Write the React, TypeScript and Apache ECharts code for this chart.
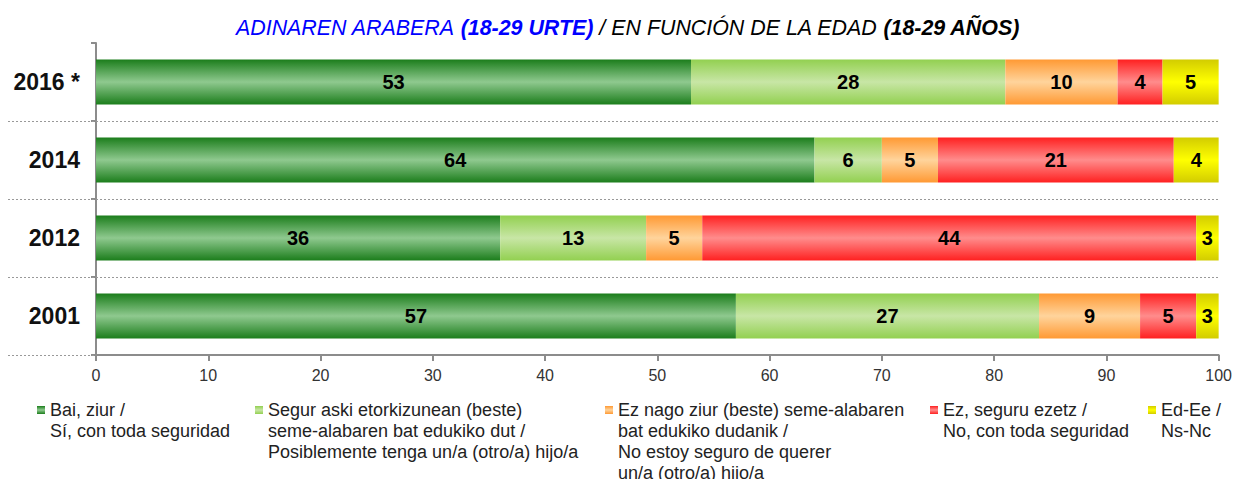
import React, { useEffect, useRef } from "react";
import * as echarts from "echarts";

const categories = ["2016 *", "2014", "2012", "2001"];
const seriesNames = [
  "Bai, ziur /\nSí, con toda seguridad",
  "Segur aski etorkizunean (beste)\nseme-alabaren bat edukiko dut /\nPosiblemente tenga un/a (otro/a) hijo/a",
  "Ez nago ziur (beste) seme-alabaren\nbat edukiko dudanik /\nNo estoy seguro de querer\nun/a (otro/a) hijo/a",
  "Ez, seguru ezetz /\nNo, con toda seguridad",
  "Ed-Ee /\nNs-Nc",
];
const baiZiur = [53, 64, 36, 57];
const segurAski = [28, 6, 13, 27];
const ezNagoZiur = [10, 5, 5, 9];
const ezSeguru = [4, 21, 44, 5];
const edEe = [5, 4, 3, 3];
const seriesValues = [baiZiur, segurAski, ezNagoZiur, ezSeguru, edEe];

const edgeColors = ["#1b7d1b", "#92d050", "#ff9933", "#ff2020", "#d2cc00"];
const midColors = ["#8fc98f", "#c8e6a6", "#ffd49c", "#ff8c8c", "#ffff00"];
const legendLeft = [37, 255, 605, 930, 1148];

const FONT = "'Liberation Sans', Arial, sans-serif";

function grad(edge: string, mid: string) {
  return new echarts.graphic.LinearGradient(0, 0, 0, 1, [
    { offset: 0, color: edge },
    { offset: 0.5, color: mid },
    { offset: 1, color: edge },
  ]);
}

export default function App() {
  const ref = useRef<HTMLDivElement>(null);
  useEffect(() => {
    if (!ref.current) return;
    const chart = echarts.init(ref.current, null, { renderer: "svg" });
    const lineCount = seriesNames.map((n) => n.split("\n").length);
    const TS = 21.4;
    chart.setOption({
      animation: false,
      title: {
        text:
          "{b|ADINAREN ARABERA }{bb|(18-29 URTE)}{k| / EN FUNCIÓN DE LA EDAD }{kb|(18-29 AÑOS)}",
        left: 236,
        top: 17,
        padding: 0,
        textStyle: {
          fontWeight: "normal",
          rich: {
            b: { color: "#0000ff", fontSize: TS, fontStyle: "italic", fontWeight: "normal", fontFamily: FONT },
            bb: { color: "#0000ff", fontSize: TS, fontStyle: "italic", fontWeight: "bold", fontFamily: FONT },
            k: { color: "#000", fontSize: TS, fontStyle: "italic", fontWeight: "normal", fontFamily: FONT },
            kb: { color: "#000", fontSize: TS, fontStyle: "italic", fontWeight: "bold", fontFamily: FONT },
          },
        },
      },
      legend: seriesNames.map((n, i) => ({
        data: [{ name: n }],
        left: legendLeft[i],
        top: 410 - (2 * lineCount[i] - 1) * 10.5,
        padding: 0,
        itemWidth: 8,
        itemHeight: 8,
        icon: "rect",
        selectedMode: false,
        formatter: (name: string) => "\n".repeat(name.split("\n").length - 1) + name,
        textStyle: { fontSize: 18, lineHeight: 21, color: "#222", fontFamily: FONT },
      })),
      grid: { left: 96, right: 16, top: 43, bottom: 124, containLabel: false },
      xAxis: {
        type: "value",
        min: 0,
        max: 100,
        interval: 10,
        axisLine: { show: true, lineStyle: { color: "#8c8c8c", width: 2 } },
        axisTick: { show: true, length: 6, lineStyle: { color: "#8c8c8c", width: 2 } },
        splitLine: { show: false },
        axisLabel: { color: "#333", fontSize: 16, fontFamily: FONT, margin: 12 },
      },
      yAxis: {
        type: "category",
        data: categories,
        inverse: true,
        axisLine: { show: true, lineStyle: { color: "#8c8c8c", width: 2 } },
        axisTick: { show: true, length: 5, lineStyle: { color: "#8c8c8c", width: 2 } },
        axisLabel: { color: "#111", fontSize: 23, fontWeight: "bold", fontFamily: FONT, margin: 16 },
      },
      series: seriesNames.map((n, i) => ({
        name: n,
        type: "bar",
        stack: "total",
        barCategoryGap: "42%",
        data: seriesValues[i],
        itemStyle: { color: grad(edgeColors[i], midColors[i]) },
        label: {
          show: true,
          position: "inside",
          color: "#000",
          fontWeight: "bold",
          fontSize: 20,
          fontFamily: FONT,
        },
      })),
    });

    const centers = categories.map(
      (c) => (chart.convertToPixel({ gridIndex: 0 }, [0, c]) as number[])[1]
    );
    const band = centers[1] - centers[0];
    const x0 = (chart.convertToPixel({ gridIndex: 0 }, [0, categories[0]]) as number[])[0];
    const x100 = (chart.convertToPixel({ gridIndex: 0 }, [100, categories[0]]) as number[])[0];
    const lines = centers.map((cy, i) => {
      const y = Math.round(cy + band / 2) + 0.5;
      const last = i === centers.length - 1;
      return {
        type: "line",
        silent: true,
        z: 1,
        shape: { x1: 8, y1: y, x2: last ? x0 - 2 : x100, y2: y },
        style: { stroke: "#999", lineWidth: 1, lineDash: [2, 2] },
      };
    });
    chart.setOption({ graphic: lines });

    return () => chart.dispose();
  }, []);
  return (
    <div
      ref={ref}
      style={{ position: "absolute", left: 0, top: 0, width: 1235, height: 479 }}
    />
  );
}
